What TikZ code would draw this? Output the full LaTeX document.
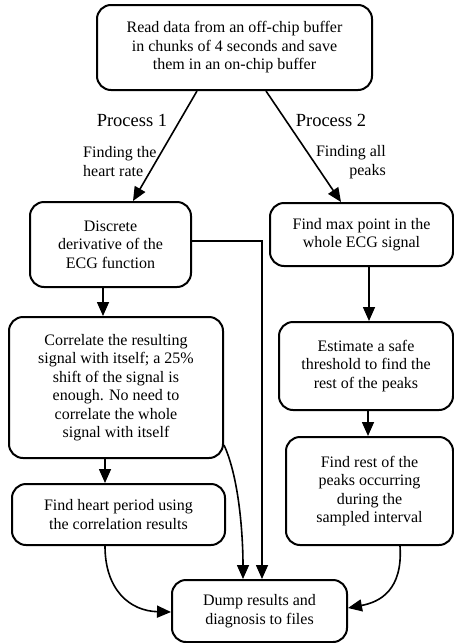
\documentclass[tikz,border=0pt]{standalone}
\usepackage{fontspec}
\setmainfont{Liberation Serif}
\usetikzlibrary{arrows.meta,calc}
\begin{document}
\begin{tikzpicture}[x=1pt,y=-1pt,
 box/.style={draw,line width=2pt,rounded corners=14pt,align=center,inner sep=0pt,font=\fontsize{16}{18.5}\selectfont},
 arr/.style={line width=1.6pt,-{Triangle[length=14pt,width=12pt]}},
 lbl/.style={font=\fontsize{16}{18.5}\selectfont,inner sep=0pt},
 plbl/.style={font=\fontsize{18.5}{22}\selectfont,inner sep=0pt}]
\useasboundingbox (0,0) rectangle (454,643);
\node[box,minimum width=275pt,minimum height=85pt] (top) at (234.5,47.5) {Read data from an off-chip buffer\\in chunks of 4 seconds and save\\them in an on-chip buffer};
\node[box,minimum width=161pt,minimum height=85pt] (disc) at (110.5,244.5) {Discrete\\derivative of the\\ECG function};
\node[box,minimum width=183pt,minimum height=63pt] (fmax) at (361.5,234.5) {Find max point in the\\whole ECG signal};
\node[box,minimum width=214pt,minimum height=141pt] (corr) at (116,387.5) {Correlate the resulting\\signal with itself; a 25\%\\shift of the signal is\\enough. No need to\\correlate the whole\\signal with itself};
\node[box,minimum width=174pt,minimum height=88pt] (est) at (366,366) {Estimate a safe\\threshold to find the\\rest of the peaks};
\node[box,minimum width=167pt,minimum height=108pt] (rest) at (369.5,491) {Find rest of the\\peaks occurring\\during the\\sampled interval};
\node[box,minimum width=213pt,minimum height=61pt] (heart) at (118.5,514.5) {Find heart period using\\the correlation results};
\node[box,minimum width=175pt,minimum height=62pt] (dump) at (259.5,611) {Dump results and\\diagnosis to files};

\node[plbl] (p1) at (132,120) {Process 1};
\node[plbl] (p2) at (331,120) {Process 2};
\node[lbl,anchor=west,align=left] (l1) at (83,161.5) {Finding the\\heart rate};
\node[lbl,anchor=east,align=right] (l2) at (386,162) {Finding all\\peaks};

\draw[arr] ([xshift=-37.5pt]top.south) -- ([xshift=22.5pt]disc.north);
\draw[arr] ([xshift=31.5pt]top.south) -- ([xshift=-20.5pt]fmax.north);
\draw[arr] ([xshift=-7.5pt]disc.south) -- ([xshift=-7.5pt]disc.south |- corr.north);
\draw[arr] ([xshift=7.5pt]fmax.south) -- ([xshift=7.5pt]fmax.south |- est.north);
\draw[arr] ([xshift=2pt]est.south) -- ([xshift=2pt]est.south |- rest.north);
\draw[arr] ([xshift=-11pt]corr.south) -- ([xshift=-11pt]corr.south |- heart.north);
\draw[arr] ([yshift=3.5pt]disc.east) -| ([xshift=2.5pt]dump.north);
\draw[arr] ([yshift=-57.5pt]corr.east) .. controls (240,480) and (243,540) .. ([xshift=-16.5pt]dump.north);
\draw[arr] (heart.south -| 105,0) .. controls (105,590) and (130,611) .. ([yshift=-1pt]dump.west);
\draw[arr] (rest.south -| 400,0) .. controls (403,590) and (380,602) .. ([yshift=3pt]dump.east);
\end{tikzpicture}
\end{document}
